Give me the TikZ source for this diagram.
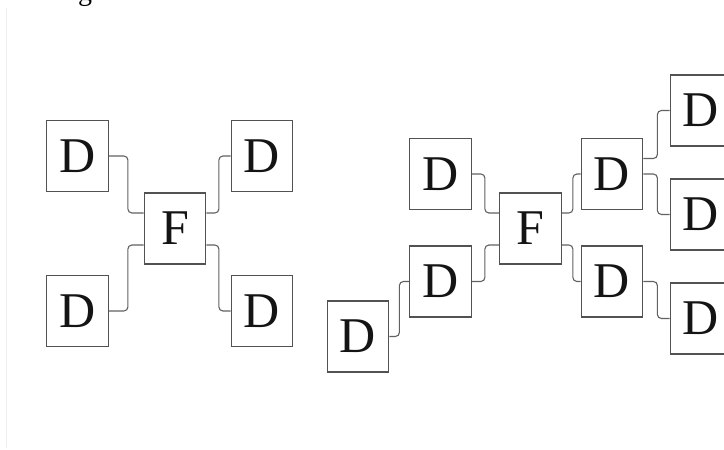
\documentclass[tikz,border=0pt]{standalone}
\usepackage{fontspec}
\setmainfont{Liberation Serif}
\usetikzlibrary{calc}
\begin{document}
\begin{tikzpicture}[x=1pt,y=-1pt,
  box/.style={draw=black!68,line width=1.3pt,fill=white,minimum width=61.5pt,minimum height=71pt,inner sep=0pt,font=\fontsize{50}{50}\selectfont,text=black!92},
  conn/.style={draw=black!62,line width=1.1pt,rounded corners=4pt}]
\useasboundingbox (0,0) rectangle (724,450);
\begin{scope}
\clip (0,0) rectangle (724,450);
% fragment of caption text above
\node[anchor=base,inner sep=0pt,font=\fontsize{28}{28}\selectfont] (cap) at (85,0) {g};
\draw[black!6,line width=1pt] (6.5,8) -- (6.5,448);
% ---------- left diagram ----------
\node[box] (DLT) at (77.5,156) {D};
\node[box] (DRT) at (262,156) {D};
\node[box] (F1)  at (175,228.5) {F};
\node[box] (DLB) at (77.5,311) {D};
\node[box] (DRB) at (262,311) {D};
\draw[conn] (DLT.east) -- ++(19,0) |- ($(F1.west)+(0,-15.5)$);
\draw[conn] (DLB.east) -- ++(19,0) |- ($(F1.west)+(0,16.5)$);
\draw[conn] ($(F1.east)+(0,-15.5)$) -- ++(12.5,0) |- (DRT.west);
\draw[conn] ($(F1.east)+(0,16.5)$) -- ++(12.5,0) |- (DRB.west);
% ---------- right diagram ----------
\node[box] (RD1) at (440.5,174) {D};
\node[box] (RF)  at (530.5,228.5) {F};
\node[box] (RD2) at (440.5,281.5) {D};
\node[box] (RD3) at (358,336.5) {D};
\node[box] (RD4) at (612,174) {D};
\node[box] (RD5) at (612,281.5) {D};
\node[box] (RD6) at (701,110.5) {D};
\node[box] (RD7) at (701,214.5) {D};
\node[box] (RD8) at (701,318.5) {D};
\draw[conn] (RD1.east) -- ++(13,0) |- ($(RF.west)+(0,-15.5)$);
\draw[conn] (RD2.east) -- ++(13,0) |- ($(RF.west)+(0,16.5)$);
\draw[conn] (RD3.east) -- ++(10,0) |- (RD2.west);
\draw[conn] ($(RF.east)+(0,-15.5)$) -- ++(11,0) |- (RD4.west);
\draw[conn] ($(RF.east)+(0,16.5)$) -- ++(11,0) |- (RD5.west);
\draw[conn] ($(RD4.east)+(0,-15.5)$) -- ++(14,0) |- (RD6.west);
\draw[conn] (RD4.east) -- ++(14,0) |- (RD7.west);
\draw[conn] (RD5.east) -- ++(14,0) |- (RD8.west);
\end{scope}
\end{tikzpicture}
\end{document}
